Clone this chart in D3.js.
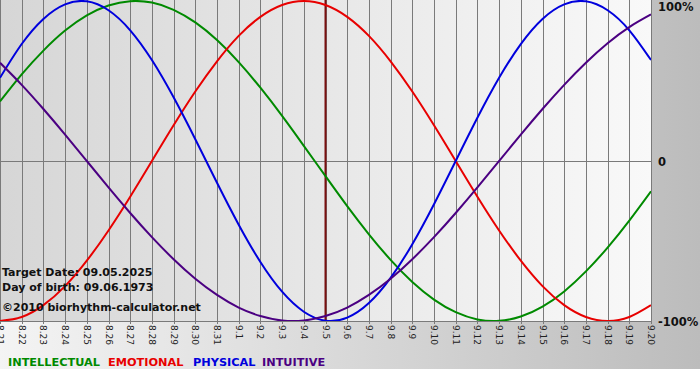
<!DOCTYPE html>
<html>
<head>
<meta charset="utf-8">
<script src="https://cdn.jsdelivr.net/npm/d3@7"></script>
<style>
  body { margin: 0; background: #fff; }
  text { font-family: "DejaVu Sans", Verdana, sans-serif; }
</style>
</head>
<body>
<div id="biorhythm"></div>
<script>
// day labels (month.day), 8.21 .. 9.20
var days = ["8.21","8.22","8.23","8.24","8.25","8.26","8.27","8.28","8.29","8.30","8.31",
    "9.1","9.2","9.3","9.4","9.5","9.6","9.7","9.8","9.9","9.10",
    "9.11","9.12","9.13","9.14","9.15","9.16","9.17","9.18","9.19","9.20"];

var intellectual = [0.372, 0.541, 0.690, 0.815, 0.910, 0.972, 0.999, 0.990, 0.945, 0.866, 0.756,
    0.618, 0.458, 0.282, 0.095, -0.095, -0.282, -0.458, -0.618, -0.756, -0.866,
    -0.945, -0.990, -0.999, -0.972, -0.910, -0.815, -0.690, -0.541, -0.372, -0.189];

var emotional = [-1.000, -0.975, -0.901, -0.782, -0.623, -0.434, -0.223, 0.000, 0.223, 0.434, 0.623,
    0.782, 0.901, 0.975, 1.000, 0.975, 0.901, 0.782, 0.623, 0.434, 0.223,
    0.000, -0.223, -0.434, -0.623, -0.782, -0.901, -0.975, -1.000, -0.975, -0.901];

var physical = [0.520, 0.731, 0.888, 0.979, 0.998, 0.942, 0.817, 0.631, 0.398, 0.136, -0.136,
    -0.398, -0.631, -0.817, -0.942, -0.998, -0.979, -0.888, -0.731, -0.520, -0.270,
    0.000, 0.270, 0.520, 0.731, 0.888, 0.979, 0.998, 0.942, 0.817, 0.631];

var intuitive = [0.614, 0.476, 0.325, 0.165, 0.000, -0.165, -0.325, -0.476, -0.614, -0.736, -0.837,
    -0.916, -0.969, -0.997, -0.997, -0.969, -0.916, -0.837, -0.736, -0.614, -0.476,
    -0.325, -0.165, 0.000, 0.165, 0.325, 0.476, 0.614, 0.736, 0.837, 0.916];

var targetDay = "9.5";
var infoLines = ["Target Date: 09.05.2025", "Day of birth: 09.06.1973"];
var copyright = "\u00a92010 biorhythm-calculator.net";
var yTicks = [{v: 1, label: "100%"}, {v: 0, label: "0"}, {v: -1, label: "-100%"}];

var series = [
    {name: "INTELLECTUAL", values: intellectual, color: "#008a00", legendX: 8},
    {name: "EMOTIONAL", values: emotional, color: "#e80000", legendX: 108},
    {name: "PHYSICAL", values: physical, color: "#0000dd", legendX: 193},
    {name: "INTUITIVE", values: intuitive, color: "#4b0082", legendX: 262}
];

var W = 700, H = 380,
    plotW = 651, plotTop = 1, plotBottom = 321;

var svg = d3.select("#biorhythm")
    .append("svg")
        .attr("width", W)
        .attr("height", H);

var defs = svg.append("defs");
var bgGrad = defs.append("linearGradient").attr("id", "bgGrad");
bgGrad.append("stop").attr("offset", "0%").attr("stop-color", "#f4f4f4");
bgGrad.append("stop").attr("offset", "100%").attr("stop-color", "#bcbcbc");
var plotGrad = defs.append("linearGradient").attr("id", "plotGrad");
plotGrad.append("stop").attr("offset", "0%").attr("stop-color", "#d6d6d6");
plotGrad.append("stop").attr("offset", "100%").attr("stop-color", "#f9f9f9");
defs.append("clipPath").attr("id", "plotClip")
    .append("rect").attr("x", 0).attr("y", 0).attr("width", plotW).attr("height", plotBottom);

// backgrounds
svg.append("rect").attr("width", W).attr("height", 369).attr("fill", "url(#bgGrad)");
svg.append("rect").attr("width", plotW).attr("height", plotBottom).attr("fill", "url(#plotGrad)");

var x = d3.scalePoint().domain(days).range([0, plotW]);
var y = d3.scaleLinear().domain([-1, 1]).range([plotBottom, plotTop]);

// vertical day grid
svg.append("g")
    .selectAll("line")
    .data(days)
    .enter().append("line")
        .attr("x1", function(d){ return Math.round(x(d)) + 0.5; })
        .attr("x2", function(d){ return Math.round(x(d)) + 0.5; })
        .attr("y1", 0)
        .attr("y2", plotBottom + 3)
        .attr("stroke", "#7a7a7a")
        .attr("stroke-width", 1);

// zero line and bottom edge
svg.append("line")
    .attr("x1", 0).attr("x2", plotW)
    .attr("y1", Math.round(y(0)) + 0.5).attr("y2", Math.round(y(0)) + 0.5)
    .attr("stroke", "#7a7a7a");
svg.append("line")
    .attr("x1", 0).attr("x2", plotW)
    .attr("y1", plotBottom + 0.5).attr("y2", plotBottom + 0.5)
    .attr("stroke", "#7a7a7a");

// day labels, rotated
svg.append("g")
    .selectAll("text")
    .data(days)
    .enter().append("text")
        .attr("transform", function(d){ return "translate(" + (x(d) - 3) + "," + (plotBottom + 4) + ")rotate(90)"; })
        .attr("font-size", "9px")
        .attr("fill", "#222")
        .text(function(d){ return d; });

// right percentage labels
svg.append("g")
    .selectAll("text")
    .data(yTicks)
    .enter().append("text")
        .attr("x", 658)
        .attr("y", function(d){ return d.v === 1 ? 11 : y(d.v) + 5; })
        .attr("font-size", "11.5px")
        .attr("font-weight", "bold")
        .attr("fill", "#111")
        .text(function(d){ return d.label; });

// target day marker
svg.append("line")
    .attr("x1", x(targetDay)).attr("x2", x(targetDay))
    .attr("y1", 0).attr("y2", plotBottom)
    .attr("stroke", "#7a1010")
    .attr("stroke-width", 2);

// curves
var line = d3.line()
    .x(function(d, i){ return x(days[i]); })
    .y(function(d){ return y(d); })
    .curve(d3.curveNatural);

svg.append("g")
    .attr("clip-path", "url(#plotClip)")
    .selectAll("path")
    .data(series)
    .enter().append("path")
        .attr("d", function(s){ return line(s.values); })
        .attr("fill", "none")
        .attr("stroke", function(s){ return s.color; })
        .attr("stroke-width", 2);

// info text
svg.append("g")
    .selectAll("text")
    .data(infoLines)
    .enter().append("text")
        .attr("x", 2)
        .attr("y", function(d, i){ return 276 + i * 15; })
        .attr("font-size", "11px")
        .attr("font-weight", "bold")
        .attr("fill", "#111")
        .text(function(d){ return d; });

svg.append("text")
    .attr("x", 2)
    .attr("y", 311)
    .attr("font-size", "11px")
    .attr("font-weight", "bold")
    .attr("fill", "#111")
    .text(copyright);

// legend
svg.append("g")
    .selectAll("text")
    .data(series)
    .enter().append("text")
        .attr("x", function(s){ return s.legendX; })
        .attr("y", 366)
        .attr("font-size", "11.3px")
        .attr("font-weight", "bold")
        .attr("fill", function(s){ return s.color; })
        .text(function(s){ return s.name; });
</script>
</body>
</html>
